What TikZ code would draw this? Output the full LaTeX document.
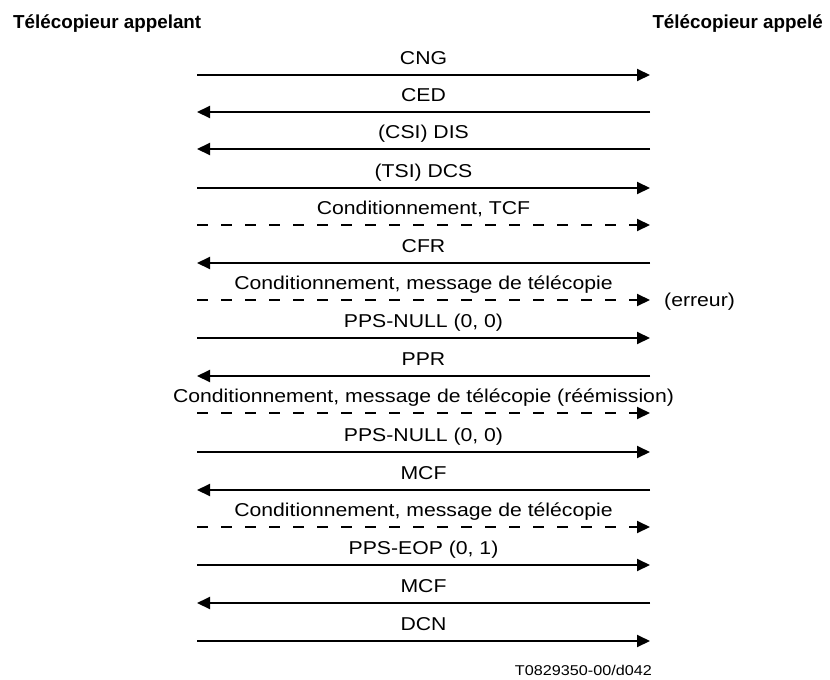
\documentclass[tikz,border=0pt]{standalone}
\usepackage{fontspec}
\setmainfont{Liberation Sans}
\newfontfamily\msgfont{Liberation Sans}[FakeStretch=1.14]
\usepackage{tikz}
\usetikzlibrary{arrows.meta}

\begin{document}
\begin{tikzpicture}[
  x=1pt, y=-1pt,
  msg/.style={line width=2pt, -{Triangle[length=13pt,width=12pt]}},
  msgdash/.style={msg, dash pattern=on 11pt off 13pt},
  lbl/.style={anchor=base, yshift=11pt, inner sep=0pt,
    font=\msgfont\fontsize{18.6}{22}\selectfont},
  title/.style={anchor=base, inner sep=0pt,
    font=\bfseries\fontsize{18.8}{22}\selectfont}
]
\useasboundingbox (0,0) rectangle (830,680);

\node[title, anchor=base west] (caller) at (13,28) {Télécopieur appelant};
\node[title, anchor=base east] (called) at (823,28) {Télécopieur appelé};

% left and right ends of each exchange
\coordinate (a1) at (197,75);   \coordinate (b1) at (650,75);
\coordinate (a2) at (197,112);  \coordinate (b2) at (650,112);
\coordinate (a3) at (197,149);  \coordinate (b3) at (650,149);
\coordinate (a4) at (197,188);  \coordinate (b4) at (650,188);
\coordinate (a5) at (197,225);  \coordinate (b5) at (650,225);
\coordinate (a6) at (197,263);  \coordinate (b6) at (650,263);
\coordinate (a7) at (197,300);  \coordinate (b7) at (650,300);
\coordinate (a8) at (197,338);  \coordinate (b8) at (650,338);
\coordinate (a9) at (197,376);  \coordinate (b9) at (650,376);
\coordinate (a10) at (197,413); \coordinate (b10) at (650,413);
\coordinate (a11) at (197,452); \coordinate (b11) at (650,452);
\coordinate (a12) at (197,490); \coordinate (b12) at (650,490);
\coordinate (a13) at (197,527); \coordinate (b13) at (650,527);
\coordinate (a14) at (197,565); \coordinate (b14) at (650,565);
\coordinate (a15) at (197,603); \coordinate (b15) at (650,603);
\coordinate (a16) at (197,641); \coordinate (b16) at (650,641);

\draw[msg] (a1) -- node[lbl] (cng) {CNG} (b1);
\draw[msg] (b2) -- node[lbl] (ced) {CED} (a2);
\draw[msg] (b3) -- node[lbl] (dis) {(CSI) DIS} (a3);
\draw[msg] (a4) -- node[lbl] (dcs) {(TSI) DCS} (b4);
\draw[msgdash] (a5) -- node[lbl] (tcf) {Conditionnement, TCF} (b5);
\draw[msg] (b6) -- node[lbl] (cfr) {CFR} (a6);
\draw[msgdash] (a7) -- node[lbl] (fax1) {Conditionnement, message de télécopie} (b7);
\node[lbl, anchor=base west, xshift=14pt, yshift=-17pt] (err) at (b7) {(erreur)};
\draw[msg] (a8) -- node[lbl] (pps1) {PPS-NULL (0, 0)} (b8);
\draw[msg] (b9) -- node[lbl] (ppr) {PPR} (a9);
\draw[msgdash] (a10) -- node[lbl] (fax2) {Conditionnement, message de télécopie (réémission)} (b10);
\draw[msg] (a11) -- node[lbl] (pps2) {PPS-NULL (0, 0)} (b11);
\draw[msg] (b12) -- node[lbl] (mcf1) {MCF} (a12);
\draw[msgdash] (a13) -- node[lbl] (fax3) {Conditionnement, message de télécopie} (b13);
\draw[msg] (a14) -- node[lbl] (eop) {PPS-EOP (0, 1)} (b14);
\draw[msg] (b15) -- node[lbl] (mcf2) {MCF} (a15);
\draw[msg] (a16) -- node[lbl] (dcn) {DCN} (b16);

\node[anchor=base east, inner sep=0pt, font=\msgfont\fontsize{14.2}{17}\selectfont]
  (ref) at (652,675) {T0829350-00/d042};

\end{tikzpicture}
\end{document}
